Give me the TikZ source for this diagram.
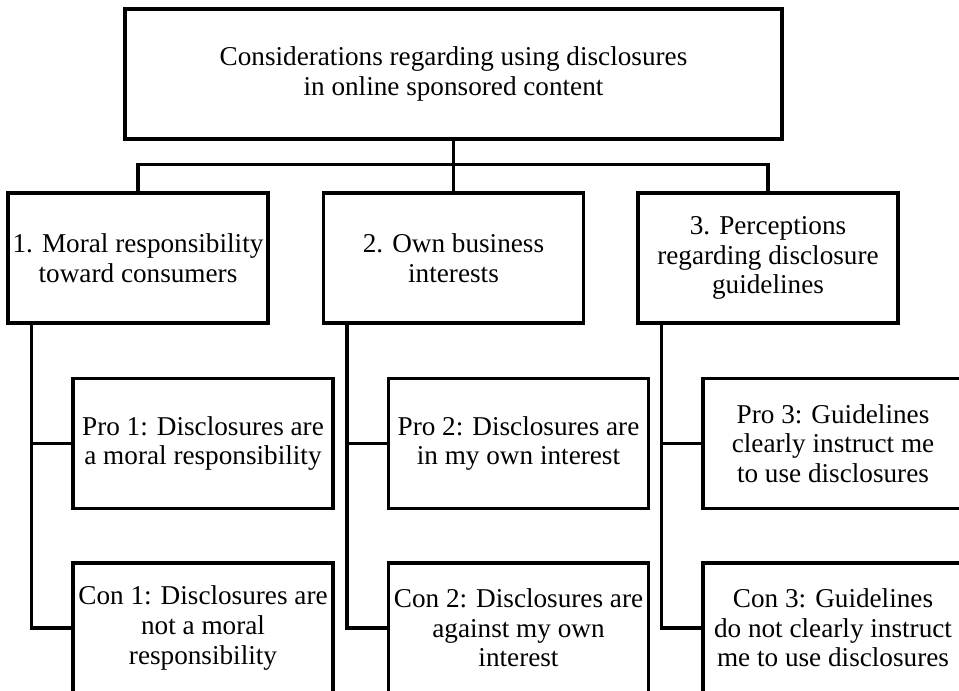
\documentclass[tikz,border=0pt]{standalone}
\usepackage{fontspec}
\setmainfont{Liberation Serif}
\usetikzlibrary{positioning}

\begin{document}
\begin{tikzpicture}[
    x=0.5pt, y=-0.5pt,
    box/.style={draw, line width=1.7pt, minimum width=130pt, minimum height=65pt, align=center, inner sep=0pt,
                font=\fontsize{13.6}{14.8}\selectfont},
    link/.style={line width=1.7pt}
]
\useasboundingbox (0,0) rectangle (959,691);
\clip (0,0) rectangle (959,691);

% ---- Root ----
\node[box, minimum width=328.5pt] (root) at (453.5, 74) {Considerations regarding using disclosures\\in online sponsored content};

% ---- Categories ----
\node[box] (moral) at (138, 258) {1. Moral responsibility\\toward consumers};
\node[box] (business) at (453.5, 258) {2. Own business\\interests};
\node[box] (guide) at (768, 258) {3. Perceptions\\regarding disclosure\\guidelines};

% ---- Pros ----
\node[box] (pro1) at (203, 443.5) {Pro 1: Disclosures are\\a moral responsibility};
\node[box] (pro2) at (518.5, 443.5) {Pro 2: Disclosures are\\in my own interest};
\node[box] (pro3) at (833, 443.5) {Pro 3: Guidelines\\clearly instruct me\\to use disclosures};

% ---- Cons ----
\node[box] (con1) at (203, 628) {Con 1: Disclosures are\\not a moral\\responsibility};
\node[box] (con2) at (518.5, 628) {Con 2: Disclosures are\\against my own\\interest};
\node[box] (con3) at (833, 628) {Con 3: Guidelines\\do not clearly instruct\\me to use disclosures};

% ---- Tree connectors ----
\draw[link] (root) -- (business);
\draw[link] (moral.north) -- ++(0,-27) -| (guide.north);

% ---- Pro/con branches ----
\draw[link] ([xshift=12.5pt]moral.south west) |- (pro1.west);
\draw[link] ([xshift=12.5pt]moral.south west) |- (con1.west);
\draw[link] ([xshift=12.5pt]business.south west) |- (pro2.west);
\draw[link] ([xshift=12.5pt]business.south west) |- (con2.west);
\draw[link] ([xshift=12.5pt]guide.south west) |- (pro3.west);
\draw[link] ([xshift=12.5pt]guide.south west) |- (con3.west);

\end{tikzpicture}
\end{document}
